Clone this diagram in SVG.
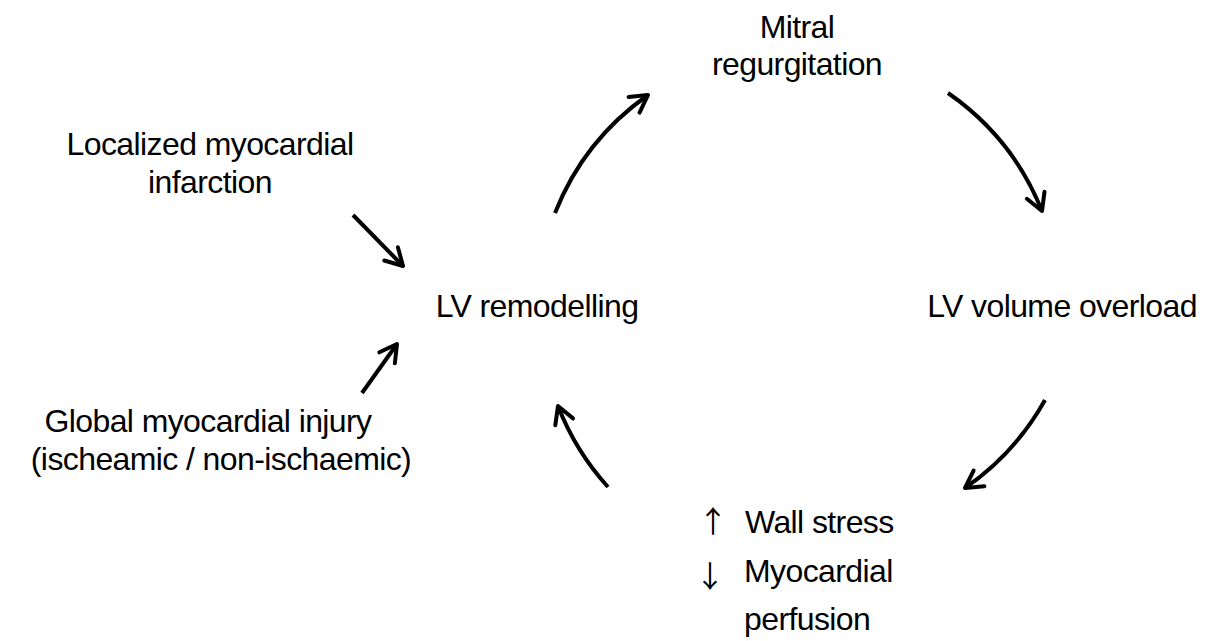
<svg xmlns="http://www.w3.org/2000/svg" width="1207" height="641" viewBox="0 0 1207 641">
<style>
text{font-family:"Liberation Sans",Arial,sans-serif;font-size:32px;fill:#000;letter-spacing:-0.6px}
.c{text-anchor:middle}
.ar{font-family:"Noto Sans CJK JP","Liberation Sans",sans-serif;font-size:30px;text-anchor:middle;letter-spacing:0}
.conn{fill:none;stroke:#000;stroke-width:4;stroke-linecap:butt;marker-end:url(#ah)}
</style>
<defs>
<marker id="ah" markerUnits="userSpaceOnUse" markerWidth="40" markerHeight="40" viewBox="-25 -20 40 40" refX="0" refY="0" orient="auto" overflow="visible">
<path d="M-17,-9.5 L0,0 L-17,9.5" fill="none" stroke="#000" stroke-width="4" stroke-linejoin="round" stroke-linecap="round"/>
</marker>
</defs>
<rect width="1207" height="641" fill="#fff"/>
<g id="connectors">
<path class="conn" d="M555,213 A262,262 0 0 1 648,95"/>
<path class="conn" d="M948,93 A262,262 0 0 1 1042,211"/>
<path class="conn" d="M1045,400 A262,262 0 0 1 965,488"/>
<path class="conn" d="M608,487 A262,262 0 0 1 558,406"/>
<path class="conn" d="M353,215 L403,266"/>
<path class="conn" d="M362,393 L397,344"/>
</g>
<g id="mitral"><text class="c" x="797" y="38">Mitral</text><text class="c" x="797" y="75">regurgitation</text></g>
<g id="localized"><text class="c" x="210" y="155">Localized myocardial</text><text class="c" x="210" y="193">infarction</text></g>
<g id="remodelling"><text class="c" x="537" y="317">LV remodelling</text></g>
<g id="overload"><text class="c" x="1062" y="317">LV volume overload</text></g>
<g id="global"><text class="c" x="208" y="432">Global myocardial injury</text><text class="c" x="221" y="470">(ischeamic / non-ischaemic)</text></g>
<g id="wallstress">
<text class="ar" x="713" y="532">↑</text><text x="745" y="533">Wall stress</text>
<text class="ar" x="710" y="587">↓</text><text x="744" y="582">Myocardial</text>
<text x="744" y="630">perfusion</text>
</g>
</svg>
